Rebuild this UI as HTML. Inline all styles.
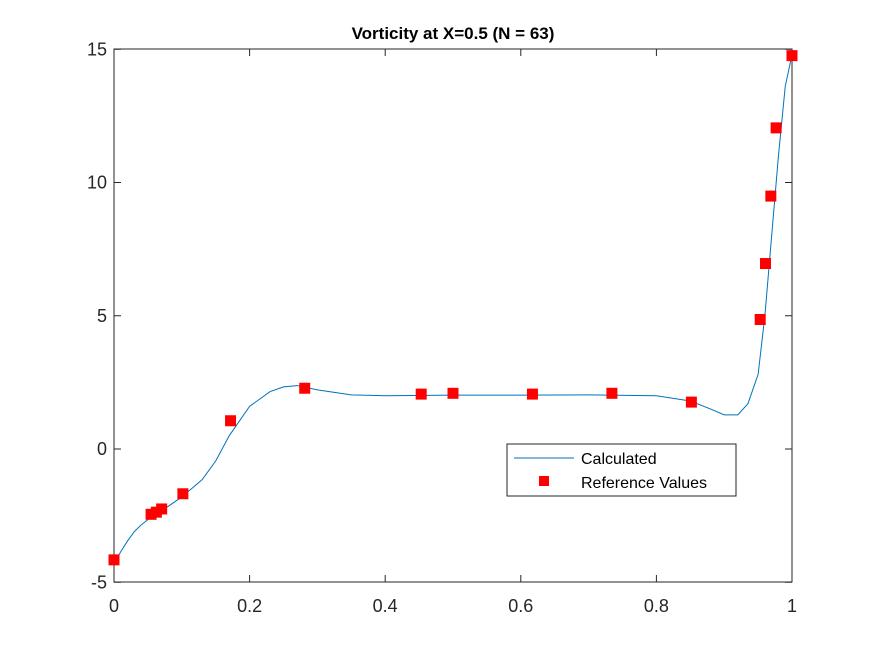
<!DOCTYPE html>
<html><head><meta charset="utf-8"><style>
body{margin:0;background:#fff;font-family:"Liberation Sans",Arial,sans-serif}
svg text{font-family:"Liberation Sans",Arial,sans-serif}
</style></head><body>
<svg id="chart" width="875" height="656" viewBox="0 0 875 656" xmlns="http://www.w3.org/2000/svg">
<rect width="875" height="656" fill="#fff"/>
<text x="453" y="39" text-anchor="middle" font-size="17" font-weight="bold" fill="#000">Vorticity at X=0.5 (N = 63)</text>
<rect x="114" y="49" width="678" height="533" fill="#fff" stroke="#262626" stroke-width="1"/>
<g id="ticks"></g>
<g id="series"></g>
<g>
<rect x="507" y="444" width="229" height="52" fill="#fff" stroke="#262626"/>
<line x1="514" y1="458" x2="574" y2="458" stroke="#0072BD" stroke-width="1"/>
<text x="581" y="464" font-size="16" fill="#000">Calculated</text>
<rect x="539" y="476" width="10" height="10" fill="#f00"/>
<text x="581" y="488" font-size="16" fill="#000">Reference Values</text>
</g>
</svg>
<script>
const xTicks=[0,0.2,0.4,0.6,0.8,1];
const xTickLabels=["0","0.2","0.4","0.6","0.8","1"];
const yTicks=[-5,0,5,10,15];
const yTickLabels=["-5","0","5","10","15"];
const calcX=[0,0.01,0.02,0.03,0.04,0.05,0.08,0.1,0.13,0.15,0.17,0.2,0.23,0.25,0.27,0.3,0.35,0.4,0.5,0.6,0.7,0.8,0.85,0.88,0.9,0.92,0.935,0.95,0.96,0.97,0.98,0.99,1];
const calcY=[-4.3,-3.85,-3.45,-3.1,-2.85,-2.65,-2.15,-1.8,-1.15,-0.45,0.5,1.6,2.15,2.33,2.38,2.22,2.03,2.0,2.02,2.02,2.03,2.0,1.8,1.5,1.28,1.28,1.7,2.8,5.0,8.0,11.0,13.6,14.8];
const refX=[0,0.0547,0.0625,0.0703,0.1016,0.1719,0.2813,0.4531,0.5,0.6172,0.7344,0.8516,0.9531,0.9609,0.9688,0.9766,1];
const refY=[-4.16,-2.45,-2.37,-2.25,-1.68,1.06,2.28,2.06,2.09,2.06,2.09,1.76,4.86,6.96,9.49,12.05,14.76];
const NS="http://www.w3.org/2000/svg";
const sx=v=>114+v*678;
const sy=v=>449-v*26.65;
const tk=document.getElementById('ticks');
function mk(tag,attrs,parent){const e=document.createElementNS(NS,tag);for(const k in attrs)e.setAttribute(k,attrs[k]);parent.appendChild(e);return e;}
xTicks.forEach((t,i)=>{
 const x=sx(t);
 const l1=mk('line',{x1:x,y1:582,x2:x,y2:575,stroke:'#262626'},tk);
 
 
 const l2=mk('line',{x1:x,y1:49,x2:x,y2:56,stroke:'#262626'},tk);
 
 
 const tx=mk('text',{x:x,y:612,'text-anchor':'middle','font-size':'18',fill:'#262626'},tk);
 tx.textContent=xTickLabels[i];
 
 
});
yTicks.forEach((t,i)=>{
 const y=sy(t);
 const l1=mk('line',{x1:114,y1:y,x2:121,y2:y,stroke:'#262626'},tk);
 
 
 const l2=mk('line',{x1:792,y1:y,x2:785,y2:y,stroke:'#262626'},tk);
 
 
 const tx=mk('text',{x:107,y:y+6,'text-anchor':'end','font-size':'18',fill:'#262626'},tk);
 tx.textContent=yTickLabels[i];
 
 
});
const sr=document.getElementById('series');
const pts=calcX.map((x,i)=>sx(x)+','+sy(calcY[i])).join(' ');
const pl=mk('polyline',{points:pts,fill:'none',stroke:'#0072BD','stroke-width':'1'},sr);


refX.forEach((x,i)=>{
 const r=mk('rect',{x:sx(x)-5.5,y:sy(refY[i])-5.5,width:11,height:11,fill:'#f00'},sr);
 
 
});
</script>
</body></html>
